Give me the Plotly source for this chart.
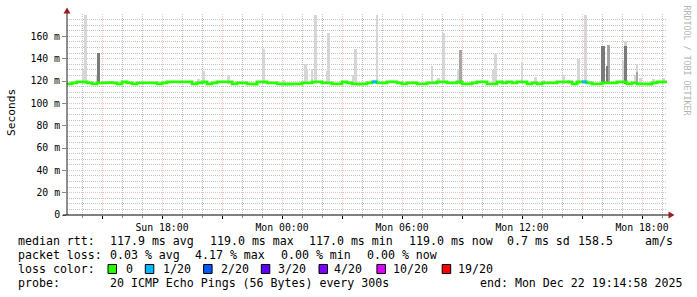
import plotly.graph_objects as go
import pandas as pd

# ---------------- data ----------------
start_time = "2025-12-21 13:15:00"
end_time = "2025-12-22 19:15:00"
step_minutes = 15

# median rtt (ms), one value per 15 minutes
median_ms = [
    117.4, 118.3, 119.2, 119.2, 118.3, 117.4, 118.4, 118.3, 118.5, 118.3,
    117.4, 119.2, 118.3, 117.4, 118.3, 118.4, 118.3, 118.3, 117.4, 118.3,
    119.2, 119.3, 119.2, 119.2, 119.2, 117.4, 118.3, 119.2, 117.4, 118.3,
    119.2, 119.2, 119.3, 117.4, 118.3, 118.3, 117.4, 117.3, 119.2, 119.3,
    118.3, 118.3, 117.4, 117.3, 117.3, 117.4, 117.4, 118.3, 118.4, 119.2,
    119.2, 118.3, 118.3, 117.4, 117.4, 119.2, 118.3, 117.4, 117.3, 117.4,
    118.3, 119.2, 118.3, 118.4, 119.2, 119.2, 118.3, 117.4, 118.3, 118.3,
    117.4, 117.4, 118.3, 118.4, 119.2, 119.2, 118.3, 118.3, 119.2, 117.4,
    117.4, 118.3, 119.2, 119.2, 117.4, 117.4, 119.2, 118.3, 119.2, 118.3,
    119.2, 119.2, 117.4, 118.3, 117.4, 118.3, 118.3, 118.4, 119.2, 119.2,
    119.3, 117.4, 119.2, 119.2, 118.3, 117.4, 117.4, 118.3, 118.3, 118.4,
    119.2, 119.2, 117.4, 118.3, 117.4, 117.4, 117.3, 118.3, 119.2, 119.2,
]
# lost pings (out of 20) per 15-minute step
loss_count = [0] * 120
loss_count[61] = 1
loss_count[103] = 1

smoke_base_ms = 117.0

light_spike_times = [
    "2025-12-21 14:05", "2025-12-21 14:10", "2025-12-21 14:45", "2025-12-21 19:50",
    "2025-12-21 20:05", "2025-12-21 21:20", "2025-12-21 23:05", "2025-12-22 00:05",
    "2025-12-22 01:10", "2025-12-22 01:15", "2025-12-22 01:30", "2025-12-22 01:40",
    "2025-12-22 02:15", "2025-12-22 02:20", "2025-12-22 03:35", "2025-12-22 03:40",
    "2025-12-22 04:45", "2025-12-22 07:30", "2025-12-22 07:50", "2025-12-22 08:05",
    "2025-12-22 08:50", "2025-12-22 10:35", "2025-12-22 10:40", "2025-12-22 12:00",
    "2025-12-22 12:40", "2025-12-22 13:05", "2025-12-22 14:05", "2025-12-22 14:20",
    "2025-12-22 14:50", "2025-12-22 15:10", "2025-12-22 17:05", "2025-12-22 17:10",
    "2025-12-22 17:40", "2025-12-22 17:45", "2025-12-22 17:55", "2025-12-22 18:35",
    "2025-12-22 19:05",
]
light_spike_tops = [
    131, 179, 125, 122,
    129, 125, 149, 121,
    135, 131, 131, 179,
    129, 163, 125, 149,
    179, 133, 123, 163,
    131, 130, 144, 137,
    124, 121, 125, 121,
    140, 179, 138, 156,
    125, 135, 123, 122,
    123,
]
mid_spike_times = ["2025-12-22 08:55", "2025-12-22 16:20", "2025-12-22 17:45"]
mid_spike_tops = [148, 152.5, 128]
dark_spike_times = ["2025-12-21 14:50", "2025-12-22 16:00", "2025-12-22 16:05",
                    "2025-12-22 16:15", "2025-12-22 17:10"]
dark_spike_tops = [145, 151, 151, 133, 151]

y_tickvals = [0, 20, 40, 60, 80, 100, 120, 140, 160]
y_ticktext = ["0", "20 m", "40 m", "60 m", "80 m", "100 m", "120 m", "140 m", "160 m"]

x_tickvals = ["2025-12-21 15:00", "2025-12-21 18:00", "2025-12-21 21:00",
              "2025-12-22 00:00", "2025-12-22 03:00", "2025-12-22 06:00",
              "2025-12-22 09:00", "2025-12-22 12:00", "2025-12-22 15:00",
              "2025-12-22 18:00"]
x_ticktext = ["", "Sun 18:00", "", "Mon 00:00", "", "Mon 06:00", "",
              "Mon 12:00", "", "Mon 18:00"]

loss_labels = ["0", "1/20", "2/20", "3/20", "4/20", "10/20", "19/20"]
loss_colors = ["#26ff00", "#00b8ff", "#0059ff", "#5e00ff", "#7e00ff", "#dd00ff", "#ff0000"]

rtt_stats = ["117.9 ms avg", "119.0 ms max", "117.0 ms min", "119.0 ms now", "0.7 ms sd", "158.5", "am/s"]
loss_stats = ["0.03 % avg", "4.17 % max", "0.00 % min", "0.00 % now"]
probe_text = "20 ICMP Echo Pings (56 Bytes) every 300s"
end_text = "end: Mon Dec 22 19:14:58 2025"

# ---------------- geometry helpers ----------------
W, H = 697, 297
L, R, T, B = 67, 30, 14, 82
PW, PH = W - L - R, H - T - B


def px(x):
    return (x - L) / PW


def py(y):
    return (T + PH - y) / PH


FONT = "DejaVu Sans Mono"

times = pd.date_range(start_time, periods=len(median_ms), freq=f"{step_minutes}min")
step = pd.Timedelta(minutes=step_minutes)

fig = go.Figure()

bar_w = 8 * 60 * 1000
for tlist, tops, col in [
    (light_spike_times, light_spike_tops, "#d6d6d6"),
    (mid_spike_times, mid_spike_tops, "#a6a6a6"),
    (dark_spike_times, dark_spike_tops, "#7a7a7a"),
]:
    fig.add_trace(go.Bar(
        x=pd.to_datetime(tlist), y=[v - smoke_base_ms for v in tops], base=smoke_base_ms,
        width=bar_w, marker=dict(color=col, line=dict(width=0)), showlegend=False,
        hoverinfo="skip"))

# median line (green), step
mx = list(times) + [times[-1] + step]
my = list(median_ms) + [median_ms[-1]]
fig.add_trace(go.Scatter(x=mx, y=my, mode="lines", line=dict(color=loss_colors[0], width=2.8, shape="hv"),
                         showlegend=False, hoverinfo="skip"))

# loss-coloured segments
for lvl_idx, lvl in enumerate([0, 1, 2, 3, 4, 10, 19]):
    if lvl == 0:
        continue
    sx, sy = [], []
    for i, c in enumerate(loss_count):
        if c == lvl:
            sx += [times[i], times[i] + step, None]
            sy += [median_ms[i], median_ms[i], None]
    if sx:
        fig.add_trace(go.Scatter(x=sx, y=sy, mode="lines",
                                 line=dict(color=loss_colors[lvl_idx], width=2.8),
                                 showlegend=False, hoverinfo="skip"))

grid_dash = "1px,1px"
major_grid = "#f0c2c2"
minor_grid = "#c2c2c2"
fig.update_layout(
    width=W, height=H, margin=dict(l=L, r=R, t=T, b=B),
    paper_bgcolor="white", plot_bgcolor="white", barmode="overlay", bargap=0,
    font=dict(family=FONT, size=10, color="#000"),
    xaxis=dict(
        type="date", range=[start_time, end_time],
        tickvals=pd.to_datetime(x_tickvals), ticktext=x_ticktext,
        showgrid=True, gridcolor=major_grid, griddash=grid_dash, gridwidth=1,
        ticks="outside", ticklen=3, tickcolor="#000",
        tickfont=dict(family=FONT, size=9.8, color="#000"),
        minor=dict(dtick=3600000, showgrid=True, gridcolor=minor_grid, griddash=grid_dash,
                   ticks="outside", ticklen=2, tickcolor="#888"),
        showline=False, zeroline=False, fixedrange=True,
    ),
    yaxis=dict(
        range=[0, 180], tickvals=y_tickvals, ticktext=y_ticktext,
        showgrid=True, gridcolor=major_grid, griddash=grid_dash, gridwidth=1,
        ticks="outside", ticklen=4, tickcolor="#888",
        tickfont=dict(family=FONT, size=9.8, color="#000"),
        minor=dict(dtick=5, showgrid=True, gridcolor=minor_grid, griddash=grid_dash),
        showline=False, zeroline=False, fixedrange=True,
    ),
)

shapes = []
# axes lines with arrows
shapes.append(dict(type="line", xref="paper", yref="paper", x0=px(67), x1=px(67), y0=py(215), y1=py(12),
                   line=dict(color="#202020", width=1)))
shapes.append(dict(type="line", xref="paper", yref="paper", x0=px(63), x1=px(669), y0=py(215), y1=py(215),
                   line=dict(color="#000", width=1)))
shapes.append(dict(type="path", xref="paper", yref="paper",
                   path=f"M {px(67)} {py(7.5)} L {px(70.5)} {py(13.5)} L {px(63.5)} {py(13.5)} Z",
                   fillcolor="#9b1c1c", line=dict(width=0)))
shapes.append(dict(type="path", xref="paper", yref="paper",
                   path=f"M {px(674.5)} {py(215)} L {px(668.5)} {py(211.5)} L {px(668.5)} {py(218.5)} Z",
                   fillcolor="#9b1c1c", line=dict(width=0)))

annotations = []


def text(x, y, s, size=11.6, color="#000", angle=0, xanchor="left"):
    annotations.append(dict(xref="paper", yref="paper", x=px(x), y=py(y), text=s, showarrow=False,
                            xanchor=xanchor, yanchor="middle", textangle=angle,
                            font=dict(family=FONT, size=size, color=color)))


text(11, 113, "Seconds", size=11.2, angle=-90, xanchor="center")
text(686.5, 60, "RRDTOOL / TOBI OETIKER", size=8.3, color="#b4b4b4", angle=90, xanchor="center")

row1, row2, row3, row4 = 241, 255, 269, 283
text(16, row1, "median rtt:")
for xs, s in zip([108, 207.5, 307, 406.5, 505, 576, 643], rtt_stats):
    text(xs, row1, s)
text(16, row2, "packet loss:")
for xs, s in zip([108, 192.5, 279, 364.5], loss_stats):
    text(xs, row2, s)
text(16, row3, "loss color:")
box_x = [108, 145.3, 203.6, 261.3, 319, 376.9, 442.2]
lab_x = [124.4, 160.9, 218.7, 275.6, 332.4, 391, 456.4]
for bx, lx, lab, col in zip(box_x, lab_x, loss_labels, loss_colors):
    shapes.append(dict(type="rect", xref="paper", yref="paper", x0=px(bx), x1=px(bx + 8.5),
                       y0=py(273.5), y1=py(264.5), fillcolor=col, line=dict(color="#000", width=1)))
    text(lx, row3, lab)
text(16, row4, "probe:")
text(108, row4, probe_text)
text(478, row4, end_text)

fig.update_layout(shapes=shapes, annotations=annotations)
fig.write_html("out.html")
